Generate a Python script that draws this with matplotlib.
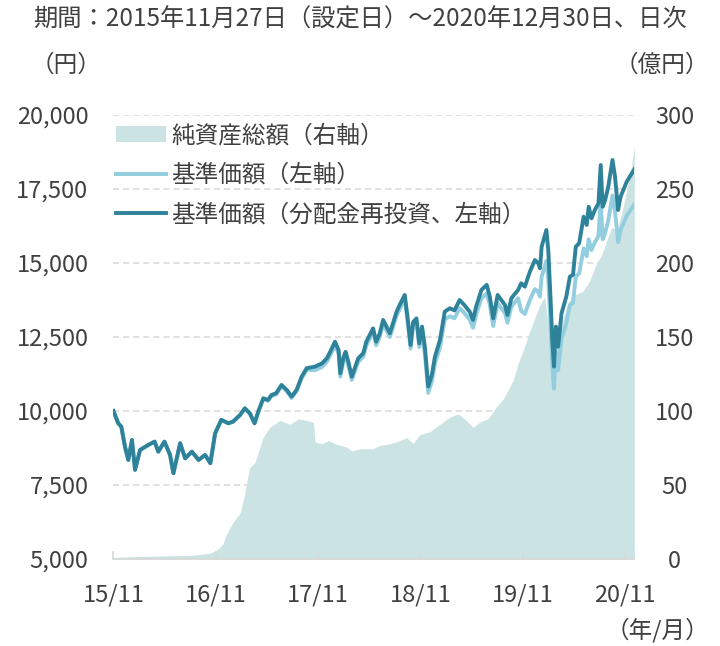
import matplotlib.pyplot as plt
import pandas as pd

# 日本語フォント
plt.rcParams['font.family'] = ['Noto Sans CJK JP', 'DejaVu Sans']

# 基準価額（日付、分配金再投資、基準価額）
nav_dates = ['2015-11-27', '2015-12-14', '2015-12-25', '2016-01-07', '2016-01-19', '2016-02-01',
             '2016-02-12', '2016-03-01', '2016-03-30', '2016-04-22', '2016-05-05', '2016-05-27',
             '2016-06-16', '2016-06-28', '2016-07-22', '2016-08-09', '2016-09-02', '2016-09-26',
             '2016-10-19', '2016-11-07', '2016-11-24', '2016-12-16', '2017-01-10', '2017-01-27',
             '2017-02-21', '2017-03-10', '2017-03-28', '2017-04-14', '2017-04-27', '2017-05-15',
             '2017-06-01', '2017-06-13', '2017-06-30', '2017-07-19', '2017-08-07', '2017-08-24',
             '2017-09-11', '2017-09-29', '2017-10-17', '2017-11-16', '2017-12-11', '2017-12-28',
             '2018-01-09', '2018-01-26', '2018-02-08', '2018-02-14', '2018-02-26', '2018-03-05',
             '2018-03-15', '2018-03-27', '2018-04-19', '2018-05-07', '2018-05-18', '2018-06-11',
             '2018-06-22', '2018-07-05', '2018-07-17', '2018-08-10', '2018-09-03', '2018-09-14',
             '2018-10-02', '2018-10-12', '2018-10-23', '2018-11-01', '2018-11-13', '2018-11-23',
             '2018-12-03', '2018-12-13', '2018-12-25', '2019-01-07', '2019-01-18', '2019-02-05',
             '2019-02-22', '2019-03-12', '2019-03-29', '2019-04-16', '2019-05-03', '2019-05-22',
             '2019-06-03', '2019-06-14', '2019-07-03', '2019-07-22', '2019-08-02', '2019-08-14',
             '2019-08-30', '2019-09-25', '2019-10-04', '2019-10-18', '2019-11-11', '2019-11-22',
             '2019-12-05', '2019-12-23', '2020-01-10', '2020-01-22', '2020-01-28', '2020-02-03',
             '2020-02-20', '2020-02-27', '2020-03-06', '2020-03-12', '2020-03-18', '2020-03-25',
             '2020-04-02', '2020-04-14', '2020-05-01', '2020-05-14', '2020-05-25', '2020-06-04',
             '2020-06-16', '2020-07-02', '2020-07-13', '2020-07-20', '2020-07-30', '2020-08-11',
             '2020-08-24', '2020-09-01', '2020-09-08', '2020-09-16', '2020-09-28', '2020-10-13',
             '2020-10-22', '2020-11-02', '2020-11-11', '2020-12-03', '2020-12-30']
nav_reinvest = [10000, 9585, 9470, 8795, 8345, 9020, 8010, 8685, 8850, 8965, 8625, 8965,
                8515, 7895, 8910, 8400, 8625, 8345, 8515, 8235, 9245, 9700, 9585, 9640,
                9865, 10090, 9920, 9585, 9978, 10430, 10375, 10540, 10600, 10880, 10710, 10485,
                10710, 11160, 11445, 11500, 11610, 11780, 12000, 12340, 12060, 11275, 11835, 12000,
                11650, 11160, 11780, 11950, 12340, 12790, 12340, 12625, 13075, 12625, 13355, 13580,
                13920, 13185, 12230, 13000, 13130, 12285, 12850, 12170, 10825, 11220, 11835, 12400,
                13355, 13470, 13400, 13750, 13580, 13355, 13075, 13525, 14090, 14260, 13860, 13130,
                13920, 13580, 13245, 13810, 14090, 14315, 14200, 14705, 15100, 14990, 14820, 15550,
                16115, 15400, 13750, 12400, 11500, 12850, 12170, 13300, 13860, 14540, 14600, 15550,
                15665, 16565, 16285, 16900, 16510, 16790, 17015, 18310, 16900, 17100, 17580, 18480,
                17920, 16790, 17240, 17750, 18165]
nav = [10000, 9585, 9470, 8795, 8345, 9020, 8010, 8685, 8850, 8965, 8625, 8965,
       8515, 7895, 8910, 8400, 8625, 8345, 8515, 8235, 9245, 9700, 9585, 9640,
       9865, 10090, 9920, 9585, 9970, 10400, 10340, 10500, 10560, 10840, 10670, 10440,
       10670, 11110, 11390, 11380, 11490, 11660, 11880, 12220, 11940, 11160, 11720, 11880,
       11530, 11050, 11660, 11830, 12220, 12660, 12220, 12500, 12940, 12500, 13220, 13440,
       13780, 13050, 12110, 12870, 13000, 12160, 12590, 11930, 10610, 11000, 11600, 12150,
       13090, 13200, 13130, 13480, 13310, 13090, 12810, 13250, 13810, 13970, 13580, 12870,
       13640, 13310, 12980, 13530, 13810, 13380, 13280, 13750, 14120, 14020, 13860, 14540,
       15070, 14400, 12860, 11590, 10750, 12010, 11380, 12440, 12960, 13590, 13650, 14540,
       14650, 15490, 15230, 15800, 15440, 15700, 15910, 17120, 15800, 15990, 16440, 17280,
       16760, 15700, 16120, 16600, 16980]

# 純資産総額（億円）
aum_dates = ['2015-11-27', '2016-01-25', '2016-05-10', '2016-08-26', '2016-10-01', '2016-10-19',
             '2016-11-06', '2016-11-30', '2016-12-24', '2016-12-30', '2017-01-28', '2017-02-21',
             '2017-03-10', '2017-03-16', '2017-03-28', '2017-04-15', '2017-04-27', '2017-05-14',
             '2017-06-07', '2017-07-13', '2017-08-18', '2017-09-17', '2017-10-17', '2017-11-10',
             '2017-11-16', '2017-12-10', '2018-01-03', '2018-01-27', '2018-03-10', '2018-03-27',
             '2018-04-25', '2018-06-11', '2018-07-05', '2018-08-10', '2018-09-15', '2018-10-09',
             '2018-11-01', '2018-11-25', '2018-12-31', '2019-02-05', '2019-03-12', '2019-04-11',
             '2019-05-10', '2019-06-03', '2019-06-27', '2019-07-26', '2019-08-25', '2019-09-18',
             '2019-10-06', '2019-10-24', '2019-11-11', '2019-11-29', '2019-12-23', '2020-01-10',
             '2020-01-28', '2020-02-14', '2020-02-27', '2020-03-15', '2020-03-27', '2020-04-20',
             '2020-05-14', '2020-06-06', '2020-06-30', '2020-07-24', '2020-08-17', '2020-09-04',
             '2020-09-22', '2020-10-10', '2020-10-28', '2020-11-14', '2020-12-03', '2020-12-21',
             '2020-12-30']
aum = [1, 1.5, 2, 2.5, 3, 3.5, 4, 6, 10.6, 15, 25, 31,
       44, 51, 62, 65, 72, 82, 89, 93.6, 91, 94.7, 93.6, 92.4,
       79, 77.8, 80, 77.8, 75.5, 73, 74.5, 74.5, 76.7, 77.8, 80, 82,
       78, 84, 86, 91, 95.8, 98, 93.6, 89, 92.4, 94.7, 102.6, 108,
       114, 120.6, 132, 141, 154, 163, 172, 177, 157, 125, 143, 163,
       175, 179, 181, 188, 200, 205, 215, 224, 222, 233, 249, 267,
       279]

tick_dates = ['2015-11-27', '2016-11-27', '2017-11-27', '2018-11-27', '2019-11-27', '2020-11-27']
tick_labels = ['15/11', '16/11', '17/11', '18/11', '19/11', '20/11']

text_color = '#404040'
grid_color = '#d9d9d9'
fs = 17

fig = plt.figure(figsize=(7.2, 6.46), dpi=100)
ax = fig.add_axes([0.1576, 0.1347, 0.7234, 0.6873])
ax2 = ax.twinx()
ax.set_zorder(2)
ax2.set_zorder(1)
ax.patch.set_visible(False)

# 純資産総額（右軸）
area = ax2.fill_between(pd.to_datetime(aum_dates), aum, 0, color='#cce3e3', linewidth=0,
                        label='純資産総額（右軸）')
ax2.set_ylim(0, 300)
ax2.set_yticks(range(0, 301, 50))
ax2.grid(axis='y', color=grid_color, linestyle=(0, (4, 2.6)), linewidth=1.1)
ax2.set_axisbelow(True)

# 基準価額（左軸）
l1, = ax.plot(pd.to_datetime(nav_dates), nav, color='#92cde0', linewidth=2.8, label='基準価額（左軸）')
l2, = ax.plot(pd.to_datetime(nav_dates), nav_reinvest, color='#2e8299', linewidth=2.8,
              label='基準価額（分配金再投資、左軸）')
ax.set_ylim(5000, 20000)
ax.set_yticks(range(5000, 20001, 2500))
ax.set_yticklabels([f'{v:,}' for v in range(5000, 20001, 2500)])
ax.set_xlim(pd.Timestamp('2015-11-27'), pd.Timestamp('2020-12-30'))
ax.set_xticks(pd.to_datetime(tick_dates))
ax.set_xticklabels(tick_labels)

for a in (ax, ax2):
    for s in a.spines.values():
        s.set_visible(False)
ax.spines['bottom'].set_visible(True)
ax.spines['bottom'].set_color(grid_color)
ax.spines['bottom'].set_linewidth(1.3)

ax.tick_params(axis='y', length=0, pad=18, labelsize=fs, labelcolor=text_color)
ax.tick_params(axis='x', direction='in', length=5.5, width=1.2, color=grid_color, pad=18,
               labelsize=fs, labelcolor=text_color)
ax2.tick_params(axis='y', length=0, pad=29, labelsize=fs, labelcolor=text_color)
for t in ax2.get_yticklabels():
    t.set_ha('center')

ax.legend(handles=[area, l1, l2], loc='upper left', bbox_to_anchor=(0.005, 0.979), frameon=False,
          borderpad=0, borderaxespad=0, handlelength=2.12, handletextpad=0.21, labelspacing=0.7,
          fontsize=fs, labelcolor=text_color)

fig.text(0.046, 0.969, '期間：2015年11月27日（設定日）～2020年12月30日、日次', fontsize=17.5,
         color=text_color, ha='left', va='center')
fig.text(0.092, 0.899, '（円）', fontsize=fs, color=text_color, ha='center', va='center')
fig.text(0.985, 0.899, '（億円）', fontsize=fs, color=text_color, ha='right', va='center')
fig.text(0.985, 0.025, '（年/月）', fontsize=fs, color=text_color, ha='right', va='center')

fig.savefig('out.png', dpi=100)
